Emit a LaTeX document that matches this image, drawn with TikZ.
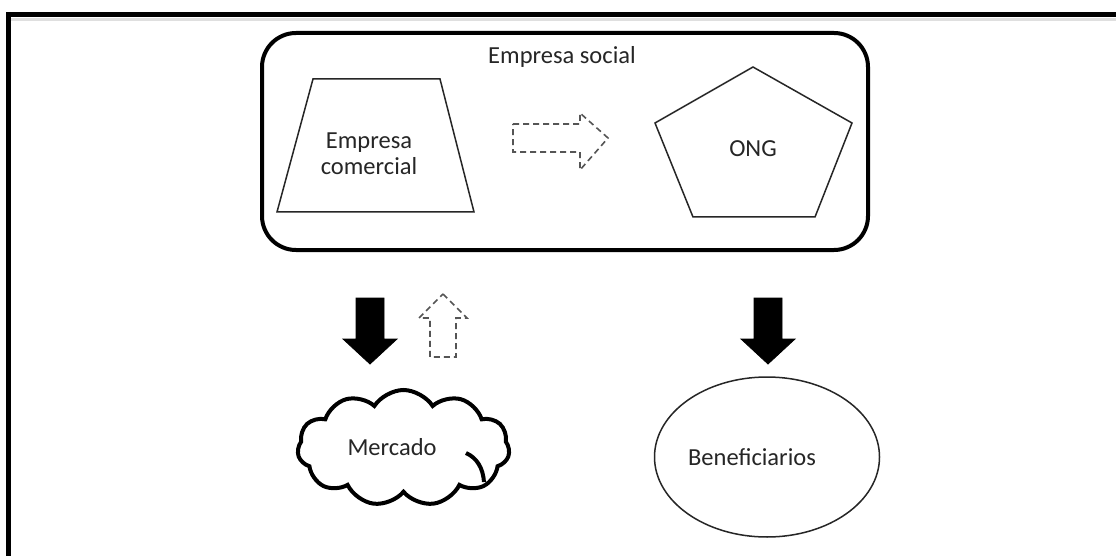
\documentclass[tikz,border=0pt]{standalone}
\usepackage{fontspec}
\setmainfont{Carlito}
\usetikzlibrary{shapes.geometric,shapes.symbols}
\definecolor{txt}{HTML}{262626}
\definecolor{dashgray}{HTML}{555555}
\tikzset{
  lbl/.style={font=\fontsize{24.5}{29}\selectfont, text=txt, align=center, inner sep=0},
  thinshape/.style={draw=black!85, line width=1.5pt, line join=miter},
  solidarrow/.style={fill=black, draw=black, line width=0.8pt, line join=miter},
  dasharrow/.style={draw=dashgray, line width=1.6pt, dash pattern=on 6pt off 4pt, line join=miter},
}
\begin{document}
\begin{tikzpicture}[x=1pt, y=-1pt]
  \useasboundingbox (0,0) rectangle (1116,556);
  \fill[white] (0,0) rectangle (1116,556);

  % page frame: top rule with soft shadow, left rule
  \draw[gray!25, line width=3pt] (11,19.5) -- (1116,19.5);
  \draw[black, line width=5pt] (6,14.5) -- (1116,14.5);
  \draw[black, line width=5pt] (8.5,12) -- (8.5,556);

  % social enterprise container
  \node[draw=black, line width=4pt, rounded corners=34pt, minimum width=606pt,
        minimum height=217pt, inner sep=0] (social) at (565,141.5) {};
  \node[lbl] (socialtitle) at (562,57) {Empresa social};

  % commercial enterprise (trapezium)
  \draw[thinshape] (313,79) -- (440,79) -- (474,212) -- (277,212) -- cycle;
  \node[lbl] (comercial) at (369,154) {Empresa\\[-3pt]comercial};

  % dashed transition arrow
  \draw[dasharrow] (513,124) -- (580,124) -- (580,113) -- (608,138)
        -- (580,170) -- (580,152) -- (513,152) -- cycle;

  % NGO (pentagon)
  \draw[thinshape] (753,67) -- (852,123) -- (815,217) -- (693,217) -- (655,123) -- cycle;
  \node[lbl] (ong) at (753,149) {ONG};

  % flows towards the market
  \draw[solidarrow] (356,298) -- (384,298) -- (384,339) -- (397,339) -- (370,364)
        -- (343,339) -- (356,339) -- cycle;
  \draw[dasharrow] (443,294) -- (467,318) -- (456,318) -- (456,357) -- (430,357)
        -- (430,318) -- (419,318) -- cycle;

  % flow towards the beneficiaries
  \draw[solidarrow] (754,298) -- (782,298) -- (782,339) -- (795,339) -- (768,364)
        -- (741,339) -- (754,339) -- cycle;

  % market (cloud)
  \node[cloud, draw=black, line width=4pt, cloud puffs=11, cloud puff arc=115,
        cloud ignores aspect, minimum width=212pt, minimum height=116pt,
        inner sep=0] (mercado) at (403.5,448) {};
  \draw[black, line width=4pt] (466,453) .. controls (477,458) and (483,468) .. (484,482);
  \node[lbl] (mercadotxt) at (392,447) {Mercado};

  % beneficiaries (ellipse)
  \node[ellipse, thinshape, minimum width=225pt, minimum height=160pt,
        inner sep=0] (benef) at (767,457) {};
  \node[lbl] (beneftxt) at (752,457) {Beneficiarios};
\end{tikzpicture}
\end{document}
